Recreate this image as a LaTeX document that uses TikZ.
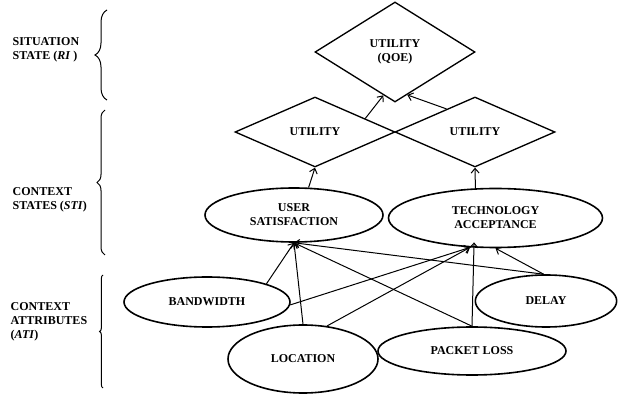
\documentclass[tikz,border=0pt]{standalone}
\usepackage{fontspec}
\setmainfont{Liberation Serif}
\usetikzlibrary{shapes.geometric,arrows.meta,decorations.pathreplacing}

\begin{document}
\begin{tikzpicture}[x=0.75pt,y=-0.75pt,font=\fontsize{9}{10.5}\selectfont\bfseries,
    util/.style={draw,diamond,line width=1pt,inner sep=0pt,minimum width=120pt},
    ctx/.style={draw,ellipse,line width=1.2pt,inner sep=0pt,align=center},
    link/.style={line width=.75pt,-{Straight Barb[length=3.5pt,width=6pt]}},
    lvl/.style={decorate,line width=.75pt}]
  \useasboundingbox (0,0) rectangle (618,395);
  % levels on the left
  \node[anchor=west,align=left] (lvlri) at (8,50) {SITUATION\\STATE (\textit{RI} )};
  \node[anchor=west,align=left] (lvlsti) at (8,200) {CONTEXT\\STATES (\textit{STI})};
  \node[anchor=west,align=left] (lvlati) at (6,322) {CONTEXT\\ATTRIBUTES\\(\textit{ATI})};
  \draw[lvl,decoration={brace,amplitude=9pt}] (107,100) -- (107,10);
  \draw[lvl,decoration={brace,amplitude=6pt}] (105,255) -- (105,110);
  \draw[lvl,decoration={brace,amplitude=2.5pt}] (103,388) -- (103,275);
  % utilities
  \node[util,minimum height=75pt,align=center] (qoe) at (395,52) {UTILITY\\(QOE)};
  \node[util,minimum height=52.5pt] (ud1) at (315,132) {UTILITY};
  \node[util,minimum height=52.5pt] (ud2) at (475,132) {UTILITY};
  % context states
  \node[ctx,minimum width=133.5pt,minimum height=40.5pt] (us) at (294,215) {USER\\SATISFACTION};
  \node[ctx,minimum width=160.5pt,minimum height=44.25pt] (ta) at (495.5,218) {TECHNOLOGY\\ACCEPTANCE};
  % context attributes
  \node[ctx,minimum width=124.5pt,minimum height=37.5pt] (bw) at (207,302) {BANDWIDTH};
  \node[ctx,minimum width=106pt,minimum height=39pt] (dl) at (546,301) {DELAY};
  \node[ctx,minimum width=112.5pt,minimum height=51pt] (loc) at (303,359) {LOCATION};
  \node[ctx,minimum width=141pt,minimum height=36pt] (pl) at (472,351) {PACKET LOSS};
  % links
  \draw[link] (bw.17) -- (us.south);
  \draw[link] (loc.north) -- (us.south);
  \draw[link] (pl.north) -- (us.south);
  \draw[link] (dl.95) -- (us.south);
  \draw[link] (bw.-2) -- (ta.-131);
  \draw[link] (loc.54) -- (ta.-131);
  \draw[link,shorten >=-4pt] (pl.north) -- (ta.-126);
  \draw[link] (dl.95) -- (ta.south);
  \draw[link] (us.62) -- (ud1.south);
  \draw[link] (ta.124) -- (ud2.south);
  \draw[link] (ud1.15) -- (qoe.-105);
  \draw[link] (ud2.141) -- (qoe.-74);
\end{tikzpicture}
\end{document}
